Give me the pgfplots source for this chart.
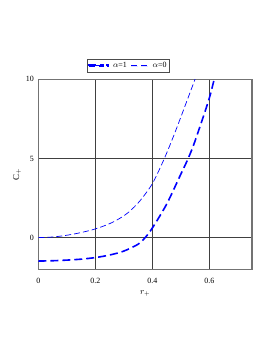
\documentclass[border=0pt]{standalone}
\usepackage{fontspec}
\setmainfont{Liberation Serif}
\usepackage{pgfplots}
\pgfplotsset{compat=1.18}
\definecolor{mcblue}{RGB}{0,0,255}
\begin{document}
\begin{tikzpicture}
\path[use as bounding box] (0,0) rectangle (273bp,353bp);
\begin{axis}[
  at={(38.3bp,83.7bp)}, anchor=south west,
  scale only axis, width=213.7bp, height=190bp,
  xmin=0, xmax=0.75, ymin=-2, ymax=10,
  xtick={0,0.2,0.4,0.6}, ytick={0,5,10},
  xticklabels={0,0.2,0.4,0.6},
  grid=major, major grid style={black!75, line width=0.6bp},
  major tick length=0pt,
  axis line style={black!55, line width=1.3bp},
  tick label style={font=\fontsize{8}{9}\selectfont},
  /pgf/number format/assume math mode=true,
  xticklabel style={yshift=-5bp},
  yticklabel style={xshift=-1bp},
  xlabel={\fontsize{9}{10}\selectfont$r_+$},
  ylabel={\fontsize{9}{10}\selectfont C$_+$},
  xlabel style={yshift=-1bp},
  ylabel style={yshift=-2bp},
  legend columns=2,
  legend style={at={(0.422,1)}, anchor=south, yshift=7bp,
    font=\fontsize{8}{9}\selectfont, draw=black!70, line width=0.6bp,
    inner sep=1bp, column sep=2bp},
  clip=true,
]
\addplot[color=mcblue, line width=1.6bp, dash pattern=on 8bp off 4bp, smooth,
  legend image code/.code={\fill[mcblue] (0cm,-0.6bp) rectangle (0.48cm,0.6bp); \fill[mcblue] (0.62cm,-0.7bp) rectangle (0.62cm+1.4bp,0.7bp);}]
  coordinates {(0,-1.48) (0.05,-1.46) (0.1,-1.42) (0.15,-1.36) (0.2,-1.26) (0.25,-1.1) (0.3,-0.85) (0.35,-0.42) (0.375,0.0) (0.4,0.6) (0.45,2.1) (0.5,4.0) (0.526,5.0) (0.55,6.1) (0.6,8.8) (0.625,10.6)};
\addlegendentry{$\alpha$=1}
\addplot[color=mcblue, line width=0.7bp, dash pattern=on 6bp off 3bp, smooth,
  legend image code/.code={\fill[mcblue] (0cm,0bp) rectangle (7bp,0bp); \fill[mcblue] (10bp,0bp) rectangle (17bp,0bp);}]
  coordinates {(0,0) (0.05,0.04) (0.1,0.15) (0.15,0.32) (0.2,0.55) (0.25,0.88) (0.287,1.23) (0.32,1.65) (0.357,2.33) (0.4,3.4) (0.44,4.9) (0.47,6.2) (0.5,7.6) (0.55,10.0) (0.56,10.5)};
\addlegendentry{$\alpha$=0}
\end{axis}
\end{tikzpicture}
\end{document}
